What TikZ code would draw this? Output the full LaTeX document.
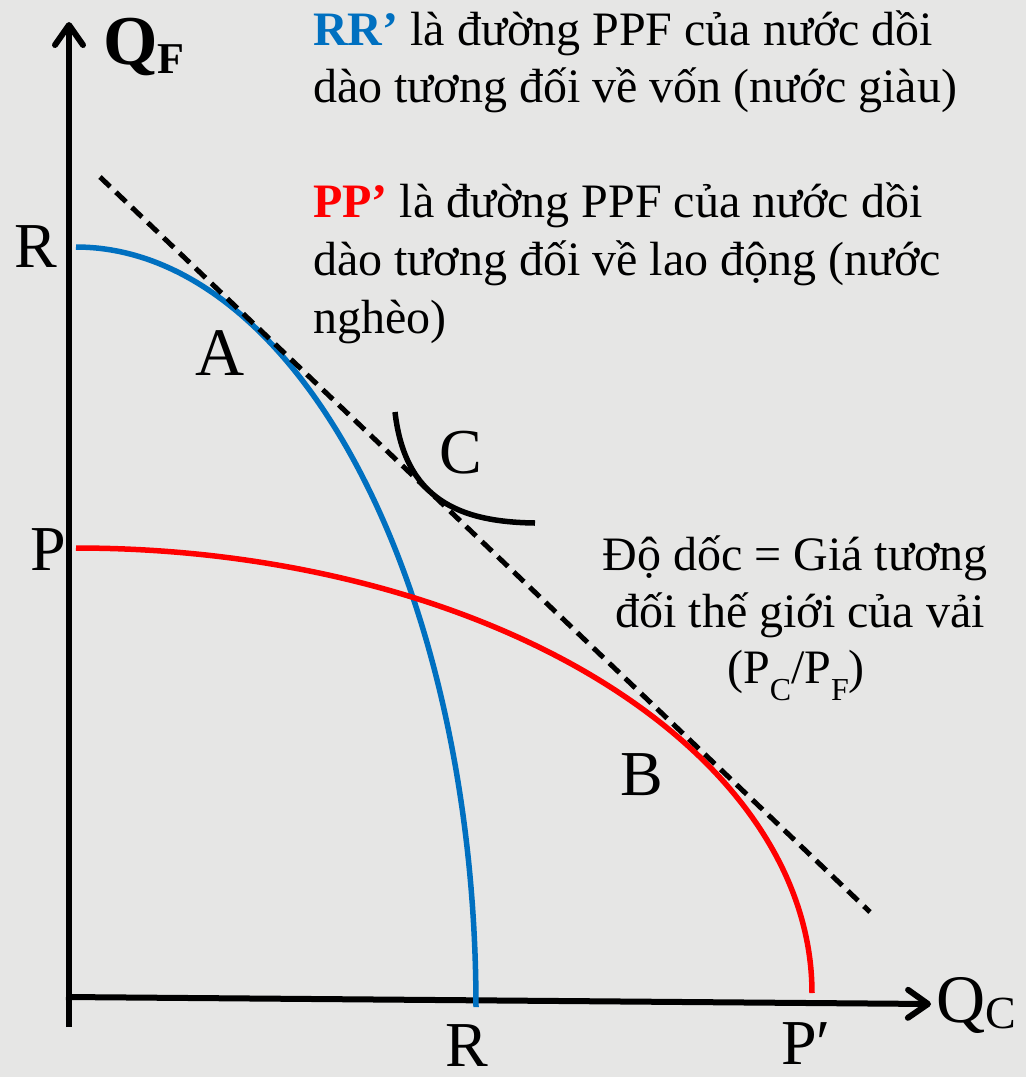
\documentclass[tikz,border=0pt]{standalone}
\usepackage{fontspec}
\setmainfont{Liberation Serif}
\usetikzlibrary{arrows.meta}
\definecolor{bg}{RGB}{230,230,229}
\definecolor{rrblue}{RGB}{0,112,192}
\definecolor{ppred}{RGB}{255,0,0}
\tikzset{
  axisline/.style={line width=6pt, -{Straight Barb[length=20pt,width=28pt,round]}},
  ppfcurve/.style={line width=5.5pt},
  budget/.style={line width=5pt, dash pattern=on 14pt off 8pt},
  body/.style={inner sep=0pt, font=\fontsize{48}{57}\selectfont},
  lbl/.style={inner sep=0pt, text depth=0pt, font=\fontsize{64}{64}\selectfont},
}
\begin{document}
\begin{tikzpicture}[x=1pt,y=-1pt]
\path[fill=bg] (0,0) rectangle (1026,1077);
\useasboundingbox (0,0) rectangle (1026,1077);

% axes
\coordinate (ybot) at (69,1027);
\coordinate (ytip) at (69,22);
\coordinate (xstart) at (66,997);
\coordinate (xtip) at (931,1004);
\draw[axisline] (ybot) -- (ytip);
\draw[axisline] (xstart) -- (xtip);

% PPF curves
\draw[ppfcurve, rrblue] plot[domain=0:90, samples=90, smooth] ({76+400*cos(\x)}, {1007-760*sin(\x)});
\draw[ppfcurve, ppred] plot[domain=0:90, samples=90, smooth] ({76+736*cos(\x)}, {993-445*sin(\x)});

% budget (world price) line
\coordinate (d1) at (100,177);
\coordinate (d2) at (870,912);
\draw[budget] (d1) -- (d2);

% indifference curve
\coordinate (c1) at (395,412);
\coordinate (c2) at (535,523);
\draw[line width=5.5pt] (c1) .. controls (405,500) and (460,522) .. (c2);

% axis labels
\node[inner sep=0pt, anchor=base west, font=\fontsize{70}{70}\selectfont\bfseries] (qf) at (103,64) {Q\raisebox{-9pt}{\fontsize{44}{44}\selectfont F}};
\node[inner sep=0pt, anchor=base west, font=\fontsize{68}{68}\selectfont] (qc) at (936,1022) {Q\raisebox{-6pt}{\fontsize{46}{46}\selectfont C}};

% point labels
\node[lbl, anchor=base] (rl) at (36,267) {R};
\node[lbl, anchor=base] (pl) at (48,570) {P};
\node[lbl, anchor=base, font=\fontsize{68}{68}\selectfont] (la) at (220,375) {A};
\node[lbl, anchor=base] (lc) at (461,473) {C};
\node[lbl, anchor=base] (lb) at (642,795) {B};
\node[lbl, anchor=base] (rb) at (467,1066) {R};
\node[lbl, anchor=base] (pb) at (806,1064) {P′};

% text block 1
\node[body, anchor=base west] (t1a) at (313,45) {\textcolor{rrblue}{\bfseries RR’} là đường PPF của nước dồi};
\node[body, anchor=base west] (t1b) at (313,102) {dào tương đối về vốn (nước giàu)};
% text block 2
\node[body, anchor=base west] (t2a) at (313,217) {\textcolor{ppred}{\bfseries PP’} là đường PPF của nước dồi};
\node[body, anchor=base west] (t2b) at (313,275) {dào tương đối về lao động (nước};
\node[body, anchor=base west] (t2c) at (313,333) {nghèo)};
% slope label
\node[body, anchor=base] (s1) at (795,570) {Độ dốc = Giá tương};
\node[body, anchor=base] (s2) at (800,627) {đối thế giới của vải};
\node[body, anchor=base] (s3) at (796,683) {(P\raisebox{-17pt}{\fontsize{32}{32}\selectfont C}/P\raisebox{-17pt}{\fontsize{32}{32}\selectfont F})};
\end{tikzpicture}
\end{document}
